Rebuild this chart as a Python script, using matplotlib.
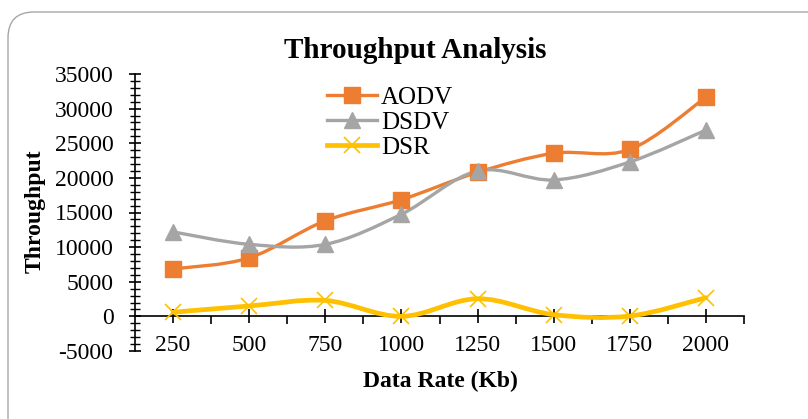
import matplotlib
matplotlib.use('Agg')
import matplotlib.pyplot as plt
import matplotlib.patches as mpatches
from matplotlib.path import Path
from matplotlib.lines import Line2D

# ── Data ──────────────────────────────────────────────────────────────────
rates = ['250', '500', '750', '1000', '1250', '1500', '1750', '2000']
aodv = [6850, 8450, 13800, 16850, 20800, 23550, 24100, 31650]
dsdv = [12200, 10400, 10400, 14750, 21000, 19700, 22300, 26900]
dsr = [600, 1500, 2300, 0, 2550, 250, 50, 2700]

ORANGE = '#ED7D31'
GRAY = '#A5A5A5'
GOLD = '#FFC000'
FONT = 'Liberation Serif'

plt.rcParams['font.family'] = FONT
plt.rcParams['axes.unicode_minus'] = False


def smooth_path(xs, ys):
    """Excel-style smoothed line: cubic Bezier through the points
    (Catmull-Rom control points), drawn natively by matplotlib."""
    pts = list(zip(xs, ys))
    n = len(pts)
    verts = [pts[0]]
    codes = [Path.MOVETO]
    for i in range(n - 1):
        p0 = pts[i - 1] if i > 0 else pts[i]
        p1 = pts[i]
        p2 = pts[i + 1]
        p3 = pts[i + 2] if i + 2 < n else pts[i + 1]
        c1 = (p1[0] + (p2[0] - p0[0]) / 6, p1[1] + (p2[1] - p0[1]) / 6)
        c2 = (p2[0] - (p3[0] - p1[0]) / 6, p2[1] - (p3[1] - p1[1]) / 6)
        verts += [c1, c2, p2]
        codes += [Path.CURVE4] * 3
    return Path(verts, codes)


fig = plt.figure(figsize=(8.08, 4.19), dpi=100)
fig.patch.set_facecolor('white')

# rounded chart frame (pixel coords, origin bottom-left)
fig.patches.append(mpatches.FancyBboxPatch(
    (8, -40), 840, 447, boxstyle='round,pad=0,rounding_size=26',
    facecolor='none', edgecolor='#A6A6A6', lw=1.0, transform=None,
    figure=fig))

ax = fig.add_axes([135 / 808, 1 - 351 / 419, 609 / 808, 277 / 419])
ax.set_xlim(-0.5, 7.5)
ax.set_ylim(-5000, 35000)

x = list(range(len(rates)))
series = [
    ('AODV', aodv, ORANGE, 's', 12, 2.4, 1.0),
    ('DSDV', dsdv, GRAY, '^', 12, 2.4, 1.0),
    ('DSR', dsr, GOLD, 'x', 12, 3.4, 1.2),
]
handles = []
for name, vals, col, mk, ms, lw, mew in series:
    ax.add_patch(mpatches.PathPatch(smooth_path(x, vals), facecolor='none',
                                    edgecolor=col, lw=lw, zorder=3,
                                    capstyle='round', joinstyle='round'))
    ax.plot(x, vals, ls='none', marker=mk, ms=ms, color=col, mew=mew, zorder=4)
    handles.append(Line2D([], [], color=col, lw=lw, marker=mk, ms=ms, mew=mew))

# spines / axes
for s in ['top', 'right']:
    ax.spines[s].set_visible(False)
ax.spines['bottom'].set_position(('data', 0))
ax.spines['left'].set_linewidth(1.2)
ax.spines['bottom'].set_linewidth(1.2)

ax.set_yticks(range(-5000, 35001, 5000))
ax.set_yticks(range(-5000, 35001, 1000), minor=True)
ax.tick_params(axis='y', which='major', direction='inout', length=9, width=1.2,
               labelsize=17, pad=11)
ax.tick_params(axis='y', which='minor', direction='inout', length=7, width=1.0)

ax.set_xticks(x)
ax.set_xticks([i + 0.5 for i in x], minor=True)
ax.tick_params(axis='x', which='major', direction='inout', length=10, width=1.2,
               labelbottom=False)
ax.tick_params(axis='x', which='minor', direction='out', length=6, width=1.2)
for i, r in zip(x, rates):
    ax.text(i, -4200, r, ha='center', va='center', fontsize=17)

fig.text(35 / 808, 1 - 211 / 419, 'Throughput', rotation=90, ha='center',
         va='center', fontsize=17, fontweight='bold')
fig.text(440 / 808, 1 - 381 / 419, 'Data Rate (Kb)', ha='center',
         va='center', fontsize=17, fontweight='bold')
fig.text(415 / 808, 1 - 50 / 419, 'Throughput Analysis', ha='center',
         va='center', fontsize=21, fontweight='bold')

ax.legend(handles, [s[0] for s in series], loc='upper left',
          bbox_to_anchor=(327 / 808, 1 - 86 / 419),
          bbox_transform=fig.transFigure, frameon=False, fontsize=18,
          handlelength=2.0, handletextpad=0.15, labelspacing=0.1,
          borderpad=0, borderaxespad=0)

fig.savefig('out.png', dpi=100)
